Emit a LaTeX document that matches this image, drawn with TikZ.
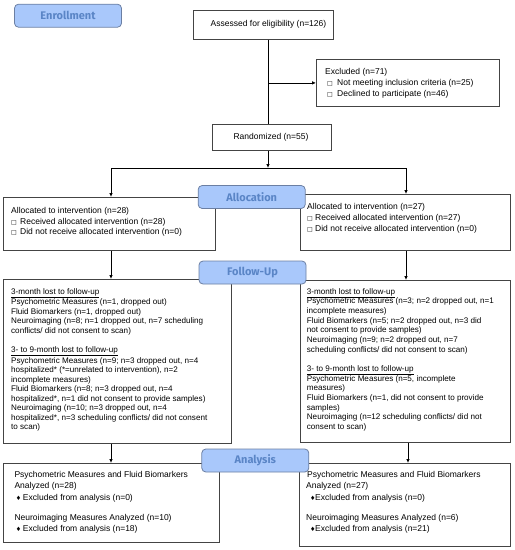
\documentclass[tikz,border=0pt]{standalone}
\usepackage{fontspec}
\setmainfont{Liberation Sans}
\newfontfamily\labfont{Fira Sans}
\newfontfamily\symfont{DejaVu Sans}
\usetikzlibrary{arrows.meta}
\definecolor{labfill}{HTML}{A9C8FB}
\definecolor{labdraw}{HTML}{6B7FA3}
\definecolor{labtext}{HTML}{5A85C6}
\definecolor{boxdraw}{HTML}{444444}
\newcommand{\sq}{{\symfont\fontsize{6}{6}\selectfont □}}
\newcommand{\dia}{{\symfont\fontsize{6}{6}\selectfont ♦}}
\begin{document}
\begin{tikzpicture}[x=1pt,y=-1pt,
  box/.style={draw=boxdraw, line width=0.8pt, inner sep=0pt, anchor=north west, fill=white},
  txt/.style={inner sep=0pt, anchor=north west, align=left, font=\fontsize{8.5}{10.8}\selectfont},
  futxt/.style={inner sep=0pt, anchor=north west, align=left, font=\fontsize{8.1}{9.55}\selectfont},
  stage/.style={draw=labdraw, fill=labfill, line width=0.8pt, rounded corners=4pt,
    minimum width=107pt, minimum height=23pt, inner sep=0pt,
    font=\labfont\bfseries\fontsize{11}{12}\selectfont, text=labtext},
  line/.style={draw=black, line width=0.8pt},
  arr/.style={line, -{Latex[length=4pt,width=3.6pt]}}]
\useasboundingbox (0,0) rectangle (515,550);

% boxes
\node[box, minimum width=140pt, minimum height=29pt] (assess) at (193,10) {};
\node[box, minimum width=183pt, minimum height=47pt] (excl) at (316,59) {};
\node[box, minimum width=119pt, minimum height=26pt] (rand) at (212,124) {};
\node[box, minimum width=212pt, minimum height=53pt] (allocL) at (3,197) {};
\node[box, minimum width=210pt, minimum height=56pt] (allocR) at (300,194) {};
\node[box, minimum width=228pt, minimum height=164pt] (fuL) at (3,279) {};
\node[box, minimum width=210pt, minimum height=162pt] (fuR) at (300,280) {};
\node[box, minimum width=216pt, minimum height=79pt] (anL) at (3,463) {};
\node[box, minimum width=211pt, minimum height=83pt] (anR) at (299,463) {};

% texts
\node[txt, anchor=center] (tassess) at (268.5,24) {Assessed for eligibility (n=126)};
\node[txt, anchor=center] (trand) at (271,137) {Randomized (n=55)};
\node[txt, font=\fontsize{8.5}{11.3}\selectfont] (texcl) at (325,68) {Excluded (n=71)\\
\hspace*{2pt}\makebox[10pt][l]{\sq}Not meeting inclusion criteria (n=25)\\
\hspace*{2pt}\makebox[10pt][l]{\sq}Declined to participate (n=46)};
\node[txt] (tallocL) at (11,207) {Allocated to intervention (n=28)\\
\makebox[9pt][l]{\sq}Received allocated intervention (n=28)\\
\makebox[9pt][l]{\sq}Did not receive allocated intervention (n=0)};
\node[txt, font=\fontsize{8.5}{11.3}\selectfont] (tallocR) at (307,203) {Allocated to intervention (n=27)\\
\makebox[8pt][l]{\sq}Received allocated intervention (n=27)\\
\makebox[8pt][l]{\sq}Did not receive allocated intervention (n=0)};
\node[futxt] (tfuL) at (11,288.2) {\underline{3-month lost to follow-up}\\
Psychometric Measures (n=1, dropped out)\\
Fluid Biomarkers (n=1, dropped out)\\
Neuroimaging (n=8; n=1 dropped out, n=7 scheduling\\
conflicts/ did not consent to scan)\\[9.55pt]
\underline{3- to 9-month lost to follow-up}\\
Psychometric Measures (n=9; n=3 dropped out, n=4\\
hospitalized* (*=unrelated to intervention), n=2\\
incomplete measures)\\
Fluid Biomarkers (n=8; n=3 dropped out, n=4\\
hospitalized*, n=1 did not consent to provide samples)\\
Neuroimaging (n=10; n=3 dropped out, n=4\\
hospitalized*, n=3 scheduling conflicts/ did not consent\\
to scan)};
\node[futxt, font=\fontsize{8.1}{9.65}\selectfont] (tfuR) at (306.7,288.2) {\underline{3-month lost to follow-up}\\
Psychometric Measures (n=3; n=2 dropped out, n=1\\
incomplete measures)\\
Fluid Biomarkers (n=5; n=2 dropped out, n=3 did\\
not consent to provide samples)\\
Neuroimaging (n=9; n=2 dropped out, n=7\\
scheduling conflicts/ did not consent to scan)\\[9.65pt]
\underline{3- to 9-month lost to follow-up}\\
Psychometric Measures (n=5, incomplete\\
measures)\\
Fluid Biomarkers (n=1, did not consent to provide\\
samples)\\
Neuroimaging (n=12 scheduling conflicts/ did not\\
consent to scan)};
\node[txt, font=\fontsize{8.5}{10.7}\selectfont] (tanL) at (14.3,471.3) {Psychometric Measures and Fluid Biomarkers\\
Analyzed (n=28)\\[1.9pt]
\hspace*{1.5pt}\makebox[7pt][l]{\dia}Excluded from analysis (n=0)\\[9.3pt]
Neuroimaging Measures Analyzed (n=10)\\[0.3pt]
\hspace*{1.5pt}\makebox[7pt][l]{\dia}Excluded from analysis (n=18)};
\node[txt, font=\fontsize{8.5}{10.7}\selectfont] (tanR) at (306,471.3) {\hspace*{1pt}Psychometric Measures and Fluid Biomarkers\\
Analyzed (n=27)\\[1.9pt]
\hspace*{4pt}\makebox[5pt][l]{\dia}Excluded from analysis (n=0)\\[9.3pt]
Neuroimaging Measures Analyzed (n=6)\\[0.3pt]
\hspace*{4pt}\makebox[5pt][l]{\dia}Excluded from analysis (n=21)};

% connectors
\coordinate (sp) at (268,0);
\coordinate (split) at (268,168);
\coordinate (splitL) at (111,168);
\coordinate (splitR) at (406,168);
\coordinate (cR2) at (408,0);
\draw[line] (assess.south -| sp) -- (rand.north -| sp);
\draw[arr] (sp |- excl.west) -- (excl.west);
\draw[arr] (rand.south -| sp) -- (split);
\draw[line] (splitL) -- (splitR);
\draw[arr] (splitL) -- (splitL |- allocL.north);
\draw[arr] (splitR) -- (splitR |- allocR.north);
\draw[arr] (allocL.south -| splitL) -- (fuL.north -| splitL);
\draw[arr] (allocR.south -| splitR) -- (fuR.north -| splitR);
\draw[arr] (fuL.south -| splitL) -- (anL.north -| splitL);
\draw[arr] (fuR.south -| cR2) -- (anR.north -| cR2);

% stage labels
\node[stage] (enroll) at (68,15.7) {Enrollment};
\node[stage] (alloc) at (251.7,197) {Allocation};
\node[stage] (follow) at (252.5,272.5) {Follow-Up};
\node[stage] (analysis) at (255.3,460.5) {Analysis};
\end{tikzpicture}
\end{document}
